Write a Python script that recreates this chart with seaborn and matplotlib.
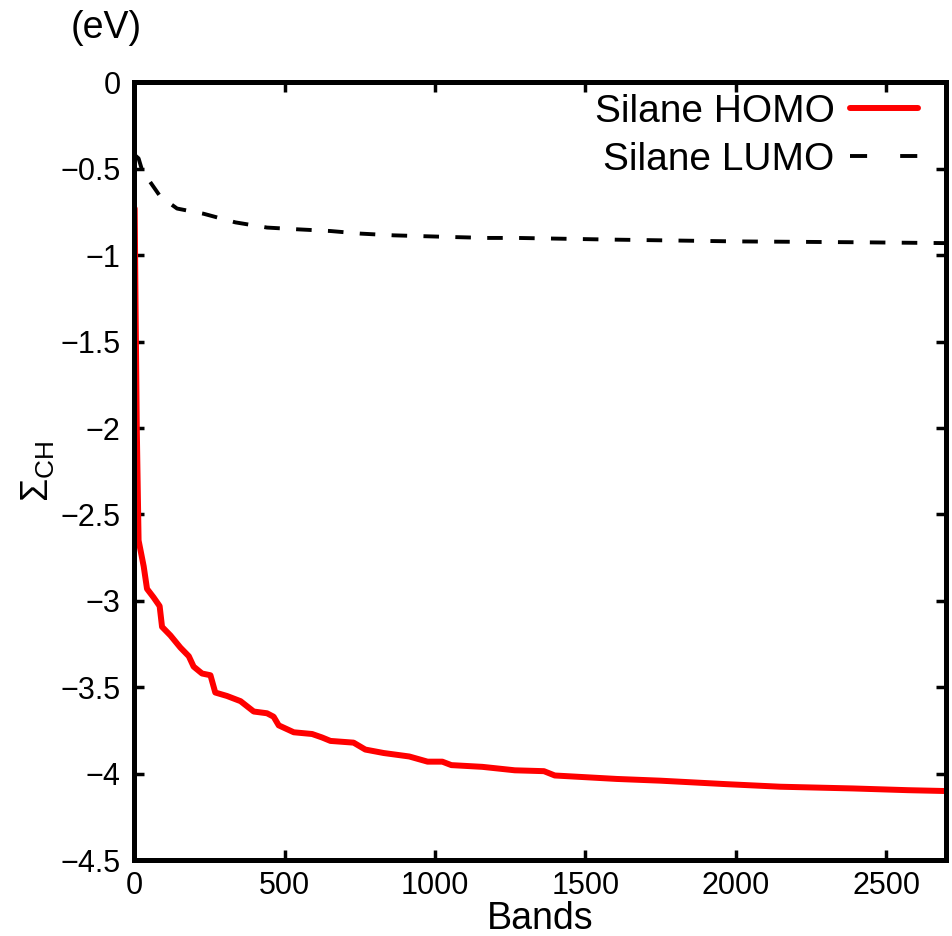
import numpy as np
import pandas as pd
import matplotlib
matplotlib.use('Agg')
import matplotlib.pyplot as plt
import seaborn as sns

# Values (band count vs Sigma_CH in eV)
homo_bands = [1, 4, 8, 14, 31, 42, 64, 84, 92, 120, 153, 181, 197, 225, 253, 269, 308,
              353, 397, 441, 463, 480, 530, 591, 624, 652, 729, 768, 829, 914, 975,
              1024, 1054, 1157, 1265, 1362, 1398, 1604, 1749, 1967, 2148, 2390, 2572,
              2700]
homo_vals = [-0.73, -1.3, -2.0, -2.65, -2.80, -2.93, -2.98, -3.03, -3.15, -3.20, -3.27,
             -3.32, -3.38, -3.42, -3.43, -3.53, -3.55, -3.58, -3.64, -3.65, -3.67, -3.72,
             -3.76, -3.77, -3.79, -3.81, -3.82, -3.86, -3.88, -3.90, -3.93, -3.93, -3.95,
             -3.96, -3.98, -3.985, -4.01, -4.03, -4.04, -4.06, -4.075, -4.085, -4.095,
             -4.10]

lumo_bands = [1, 14, 26, 86, 142, 230, 336, 441, 541, 652, 752, 862, 962, 1062, 1173,
              1273, 1600, 2000, 2400, 2700]
lumo_vals = [-0.42, -0.44, -0.51, -0.66, -0.73, -0.76, -0.81, -0.84, -0.85, -0.86,
             -0.875, -0.885, -0.89, -0.895, -0.90, -0.90, -0.91, -0.92, -0.925, -0.93]

x_ticks = [0, 500, 1000, 1500, 2000, 2500]
y_ticks = [0, -0.5, -1, -1.5, -2, -2.5, -3, -3.5, -4, -4.5]
y_ticklabels = ['0', '\u22120.5', '\u22121', '\u22121.5', '\u22122', '\u22122.5',
                '\u22123', '\u22123.5', '\u22124', '\u22124.5']

sns.set_style('ticks', {'axes.edgecolor': 'black', 'text.color': 'black',
                        'axes.labelcolor': 'black', 'xtick.color': 'black',
                        'ytick.color': 'black'})
plt.rcParams['font.family'] = ['Liberation Sans', 'DejaVu Sans']
plt.rcParams['mathtext.fontset'] = 'custom'
plt.rcParams['mathtext.rm'] = 'Liberation Sans'
plt.rcParams['mathtext.it'] = 'Liberation Sans'

homo = pd.DataFrame({'band': homo_bands, 'sigma': homo_vals})
lumo = pd.DataFrame({'band': lumo_bands, 'sigma': lumo_vals})

fig = plt.figure(figsize=(9.53, 9.36), dpi=100)
ax = fig.add_axes([0.141, 0.081, 0.852, 0.831])

sns.lineplot(data=homo, x='band', y='sigma', color='#ff0000', lw=4.3,
             label='Silane HOMO', ax=ax)
sns.lineplot(data=lumo, x='band', y='sigma', color='black', lw=2.8,
             label='Silane LUMO', ax=ax)
ax.lines[1].set_dashes((4, 4.2))

ax.set_xlim(0, 2700)
ax.set_ylim(-4.5, 0)
ax.set_xticks(x_ticks)
ax.set_yticks(y_ticks)
ax.set_yticklabels(y_ticklabels)
ax.tick_params(direction='in', length=7, width=2.5, top=True, right=True)
ax.tick_params(axis='x', labelsize=22, pad=8)
ax.tick_params(axis='y', labelsize=22, pad=10)
for s in ax.spines.values():
    s.set_linewidth(3.6)

ax.set_xlabel('Bands', fontsize=27, labelpad=0)
ax.set_ylabel(r'$\Sigma_{\rm CH}$', fontsize=27, labelpad=2)
fig.text(0.111, 0.970, '(eV)', fontsize=27, ha='center', va='center')

leg = ax.legend(loc='upper right', bbox_to_anchor=(0.9655, 0.985), frameon=False,
                fontsize=28, markerfirst=False, handlelength=1.75, handletextpad=0.4,
                borderaxespad=0, borderpad=0, labelspacing=0.3)
leg.get_lines()[1].set_dashes((4.4, 8.5))

fig.savefig('out.png', dpi=100)
